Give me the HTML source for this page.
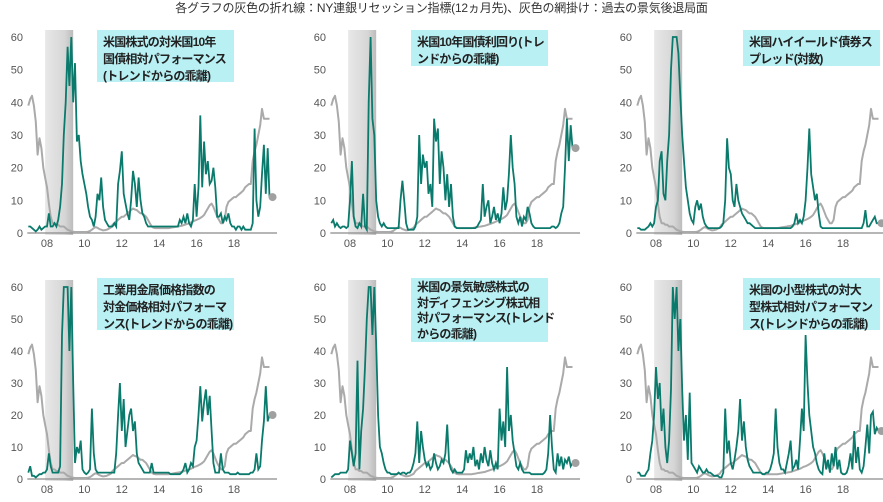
<!DOCTYPE html>
<html><head><meta charset="utf-8">
<style>
body{margin:0;background:#fff;width:883px;height:502px;overflow:hidden;font-family:"Liberation Sans","Noto Sans CJK JP",sans-serif;}
#title{position:absolute;left:0;top:0;width:883px;text-align:center;font-size:12px;letter-spacing:-0.2px;color:#333;line-height:17px;}
.box{position:absolute;background:#b8f0f4;font-weight:bold;font-size:12px;letter-spacing:-0.8px;line-height:17px;color:#222;padding:4px 6px;box-sizing:border-box;white-space:nowrap;}
svg{position:absolute;left:0;top:0;}
</style></head><body>
<div id="title">各グラフの灰色の折れ線：NY連銀リセッション指標(12ヵ月先)、灰色の網掛け：過去の景気後退局面</div>
<svg id="chart" width="883" height="502"></svg>
<div class="box" style="left:97px;top:30px;width:137px;height:52px;">米国株式の対米国10年<br>国債相対パフォーマンス<br>(トレンドからの乖離)</div>
<div class="box" style="left:411px;top:30px;width:137px;height:36px;">米国10年国債利回り(トレ<br>ンドからの乖離)</div>
<div class="box" style="left:743px;top:30px;width:137px;height:36px;">米国ハイイールド債券ス<br>プレッド(対数)</div>
<div class="box" style="left:97px;top:278px;width:137px;height:52px;">工業用金属価格指数の<br>対金価格相対パフォーマ<br>ンス(トレンドからの乖離)</div>
<div class="box" style="left:411px;top:278px;width:137px;height:64px;padding-top:2px;line-height:15.5px;">米国の景気敏感株式の<br>対ディフェンシブ株式相<br>対パフォーマンス(トレンド<br>からの乖離)</div>
<div class="box" style="left:743px;top:278px;width:137px;height:52px;">米国の小型株式の対大<br>型株式相対パフォーマン<br>ス(トレンドからの乖離)</div>
<script>
const startYear = 2007;
const stepYear = 0.1;
const yTicks = [0,10,20,30,40,50,60];
const xTickLabels = ["08","10","12","14","16","18"];
const xTickYears = [2008,2010,2012,2014,2016,2018];
const recessionStart = 2007.9;
const recessionEnd = 2009.4;
const nyFedProb = [39,41,42,39,34,24,29,26,20,17, 14,9,5,3,3,2.5,2.5,2,2,2, 1.5,1,0.8,0.5,0.4,0.3,0.3,0.3,0.3,0.3, 0.3,0.3,0.4,0.6,1,1.5,1.8,1.6,1.2,1, 0.8,0.9,1,1.3,1.6,2.5,3,3.5,4,4.5, 5,5,5.5,6,6.5,7,7.5,7.2,7,6.5, 6,6,5.5,5,4,3,2,1.6,1.5,1.5, 1.5,1.5,1.5,1.5,1.5,1.5,1.6,1.7,1.8,1.9, 2,2.1,2.2,2.4,2.6,2.8,3,3.2,3.5,3.8, 4,4.3,4.6,5,5.5,6.5,7.5,8.5,9,8, 6.5,5,4,3,3,4,8,9.5,10,10.5, 11,11,11.5,12,12.5,13,14,14.5,15,15, 22,25,27,30,33,38,35,35,35,35];
const stockVsBond = [2,2,1.5,1,0.5,1,2,1,1.5,2, 2,6,2,2,3,2,4,8,15,30, 40,57,45,62,40,52,28,30,22,18, 15,12,8,5,4,2,5,12,10,17, 8,4,3,2,2,2,3,2,15,19, 25,12,9,6,4,10,19,15,8,17, 10,6,5,3,2,2,2,2,2,2, 2,2,2,2,2,2,2,2,2,2, 2,4,3,5,3,6,3,2,4,15, 5,14,36,14,28,18,22,15,16,20, 14,5,5,6,3,5,4,6,3,2, 2,1,2,2,1,2,1,1,1,1, 3,32,10,5,8,18,27,12,26,11];
const tenYearYield = [3,4,2,3,2,1.5,2,2,1.5,2, 10,22,5,2,1.5,3,2,12,2,1, 40,62,35,30,10,5,3,2,3,2, 1.5,1.5,1.5,1.5,1.5,1.5,1.5,10,16,10, 3,1,1,1,1,2,5,30,15,24, 20,22,12,15,8,35,28,32,15,25, 20,10,18,8,15,5,2,1.5,1.5,1.5, 1.5,1.5,1.5,1.5,1.5,1.5,1.5,1.5,2,3, 4,15,5,8,10,3,5,8,4,6, 3,6,14,7,10,18,30,20,15,5, 3,5,2,5,4,8,6,3,2,1.5, 1.5,1.5,1.5,1.5,1.5,1.5,1.5,1.5,2,2, 1.5,2,3,6,8,20,35,22,33,26];
const hySpread = [1.5,1.5,1,1,1,1.5,2,3,2,3, 8,10,22,25,12,10,22,30,50,62, 65,60,55,42,30,22,14,10,6,4, 3,8,10,7,9,5,3,2,1.5,1.5, 1.5,1.5,1.5,1.5,1.5,2,3,10,29,20, 18,10,8,15,10,8,6,5,4,3, 3,2.5,2,1.5,1.5,1.5,1.5,1.5,1.5,1.5, 1.5,1.5,1.5,1.5,1.5,1.5,1.5,1.5,1.5,1.5, 1.5,1.5,1.5,2,3,6,3,4,3,5, 10,20,32,18,14,10,12,6,2,1.5, 1.5,1.5,1.5,1.5,1.5,1.5,1.5,1.5,1.5,1.5, 1.5,1.5,1.5,1.5,1.5,1.5,1.5,1.5,1.5,1.5, 1.5,3,7,2,2,3,4,5,3,3];
const metalsVsGold = [2,4,1,1,0.5,1,1.5,1.5,2,2, 3,8,4,2,2,2,2,4,45,62, 62,62,40,60,30,5,10,8,12,3, 2,1.5,2,3,22,8,3,2,2,2, 2,2,2,2,2,2,2,8,20,30, 15,25,10,15,20,22,15,18,8,5, 4,3,2,2,2,2,5,2,2,2, 2,2,2,2,2,2,1.5,1.5,1.5,1.5, 1.5,1.5,2,3,5,2,3,5,4,10, 12,20,29,18,24,28,20,26,15,5, 2,2,2,8,3,2,2,2,1.5,1.5, 1.5,1.5,2,1.5,1.5,1.5,1.5,1.5,1.5,2, 2,3,8,3,4,12,18,29,18,20];
const cyclicalVsDefensive = [0.5,1,1.5,1.5,1.5,2,2,2,2,3, 12,8,4,8,37,3,15,22,35,50, 62,62,45,62,42,20,10,8,5,3, 2,2,1.5,1.5,1.5,1.5,2,1.5,2,2, 1.5,2,2,3,5,8,18,5,15,10, 6,4,5,3,4,8,5,3,4,6, 5,8,17,5,3,2,3,2,2,2, 2,3,9,5,8,6,10,4,6,3, 8,5,10,6,4,9,5,3,5,3, 22,12,18,10,35,15,20,12,8,4, 3,5,3,2,2,2,2,1.5,1.5,1.5, 1.5,1.5,1.5,1.5,2,3,8,20,10,3, 2,8,4,7,3,6,5,7,4,5];
const smallVsLarge = [2,2,1,1,1,2,3,8,12,20, 35,25,30,15,22,10,5,12,28,62, 50,62,40,50,28,12,20,6,27,5, 4,3,2,4,3,2,2,3,2,2, 1.5,1,1,1,0.5,0.5,2,22,8,12, 5,3,6,10,15,25,12,18,10,6, 4,3,2,2,2,2,2,1.5,1.5,2, 2,3,5,8,22,10,5,3,3,2, 5,8,12,3,4,6,3,12,22,15, 45,30,20,15,10,8,5,3,2,1.5, 8,3,6,2,8,4,10,3,6,2, 1.5,1.5,2,4,8,3,15,5,10,3, 2,4,10,17,8,20,21,14,16,15];

const panels = [
 {name:'stock-vs-bond', data:stockVsBond, x08:47, y0:233, y60:37},
 {name:'ten-year-yield', data:tenYearYield, x08:350, y0:233, y60:37},
 {name:'hy-spread', data:hySpread, x08:656, y0:233, y60:37},
 {name:'metals-vs-gold', data:metalsVsGold, x08:47, y0:479, y60:287},
 {name:'cyclical-vs-defensive', data:cyclicalVsDefensive, x08:350, y0:479, y60:287},
 {name:'small-vs-large', data:smallVsLarge, x08:656, y0:479, y60:287}
];
const NS='http://www.w3.org/2000/svg';
const svg=document.getElementById('chart');
function mk(tag,attrs,parent){const e=document.createElementNS(NS,tag);for(const k in attrs)e.setAttribute(k,attrs[k]);(parent||svg).appendChild(e);return e;}
const defs=mk('defs',{});
const lg=mk('linearGradient',{id:'shade',x1:'0',x2:'1',y1:'0',y2:'0'},defs);
mk('stop',{offset:'0','stop-color':'#e8e8e8'},lg);
mk('stop',{offset:'0.7','stop-color':'#d6d6d6'},lg);
mk('stop',{offset:'1','stop-color':'#bcbcbc'},lg);

panels.forEach((p,pi)=>{
  const pxPerYear=18.7;
  const xs=t=>p.x08+(t-2008)*pxPerYear;
  const ys=v=>p.y0-(Math.min(v,60)/60)*(p.y0-p.y60);
  const g=mk('g',{});
  
  
  const cp=mk('clipPath',{id:'clip'+pi},defs);
  mk('rect',{x:xs(2006.9),y:p.y60-1,width:270,height:p.y0-p.y60+4},cp);
  const sh=mk('rect',{x:xs(recessionStart),y:p.y60-7,width:xs(recessionEnd)-xs(recessionStart),height:p.y0-p.y60+9,fill:'url(#shade)'},g);
  
  
  yTicks.forEach(v=>{
    const t=mk('text',{x:p.x08-24,y:ys(v)+4,'text-anchor':'end','font-size':'11',fill:'#555'},g);
    t.textContent=v;
    
    
  });
  xTickYears.forEach((yr,i)=>{
    const t=mk('text',{x:xs(yr),y:p.y0+14,'text-anchor':'middle','font-size':'11',fill:'#555'},g);
    t.textContent=xTickLabels[i];
    
    
  });
  const ax=mk('line',{x1:xs(2007)-1,x2:xs(2020.3),y1:p.y0,y2:p.y0,stroke:'#8a8a8a','stroke-width':1.2},g);
  
  
  const ptsG=nyFedProb.map((v,i)=>xs(startYear+i*stepYear).toFixed(1)+','+ys(v).toFixed(1)).join(' ');
  const gl=mk('polyline',{points:ptsG,fill:'none',stroke:'#aaaaaa','stroke-width':2,'stroke-linejoin':'round'},g);
  
  
  const ptsT=p.data.map((v,i)=>xs(startYear+i*stepYear).toFixed(1)+','+ys(v).toFixed(1)).join(' ');
  const tl=mk('polyline',{points:ptsT,fill:'none',stroke:'#0a7a6c','stroke-width':1.8,'stroke-linejoin':'miter','clip-path':'url(#clip'+pi+')'},g);
  
  
  const last=p.data.length-1;
  const dot=mk('circle',{cx:xs(startYear+last*stepYear)+3,cy:ys(p.data[last]),r:4,fill:'#a0a0a0'},g);
  
  
});
</script>
</body></html>
